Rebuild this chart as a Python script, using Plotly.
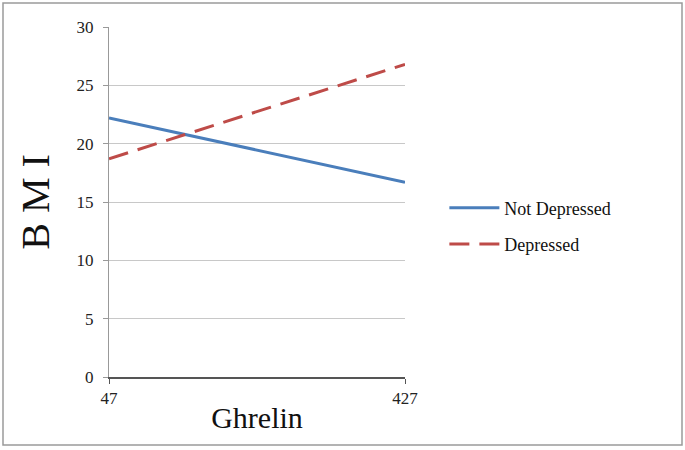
import plotly.graph_objects as go

# ghrelin endpoints and predicted BMI for each group
ghrelin = [47, 427]
not_depressed = [22.2, 16.7]
depressed = [18.7, 26.8]

y_ticks = [0, 5, 10, 15, 20, 25, 30]

serif = "Liberation Serif, Times New Roman, serif"

fig = go.Figure()
fig.add_trace(go.Scatter(x=ghrelin, y=not_depressed, mode="lines",
                         name="Not Depressed", legendgroup="a",
                         line=dict(color="#4A7EBB", width=3)))
fig.add_trace(go.Scatter(x=ghrelin, y=depressed, mode="lines",
                         name="Depressed", legendgroup="b",
                         line=dict(color="#BE4B48", width=3, dash="20px,10px")))

# plot area: x 109..405, y 27..377 (px)
W, H = 685, 450
L, R, T, B = 109, 280, 27, 73
pw, ph = W - L - R, H - T - B

def px_x(x):
    return (x - L) / pw

def px_y(y):
    return (H - B - y) / ph

fig.add_shape(type="rect", xref="paper", yref="paper",
              x0=px_x(3), x1=px_x(682), y0=px_y(445), y1=px_y(3),
              line=dict(color="#9a9a9a", width=1.5), layer="below")

fig.update_layout(
    width=W, height=H,
    margin=dict(l=L, r=R, t=T, b=B),
    plot_bgcolor="white", paper_bgcolor="white",
    font=dict(family=serif, color="#222"),
    showlegend=True,
    legend=dict(x=1.133, y=px_y(226), xanchor="left", yanchor="middle",
                font=dict(size=18, family=serif, color="#111"),
                tracegroupgap=10, itemwidth=50, bgcolor="rgba(0,0,0,0)"),
    xaxis=dict(range=[47, 427], tickvals=ghrelin, ticktext=[str(v) for v in ghrelin],
               showgrid=False, zeroline=False, showline=True, linecolor="#555",
               linewidth=1.5, ticks="outside", ticklen=5, tickcolor="#555",
               tickfont=dict(size=17, family=serif, color="#222"),
               ticklabelstandoff=0,
               title=dict(text="Ghrelin", font=dict(size=30, family=serif, color="#111"),
                          standoff=0)),
    yaxis=dict(range=[0, 30], tickvals=y_ticks, showgrid=True, gridcolor="#c8c8c8",
               gridwidth=1, zeroline=False, showline=True, linecolor="#999",
               linewidth=1, ticks="outside", ticklen=5, tickcolor="#999",
               tickfont=dict(size=17, family=serif, color="#222"),
               ticklabelstandoff=6,
               title=dict(text="B M I", font=dict(size=40, family=serif, color="#111"),
                          standoff=14)),
)

# drop the browser's default 8px body margin so the figure sits at the page corner
fig.write_html("out.html", config={"displayModeBar": False},
               post_script="document.body.style.margin='0px';")
